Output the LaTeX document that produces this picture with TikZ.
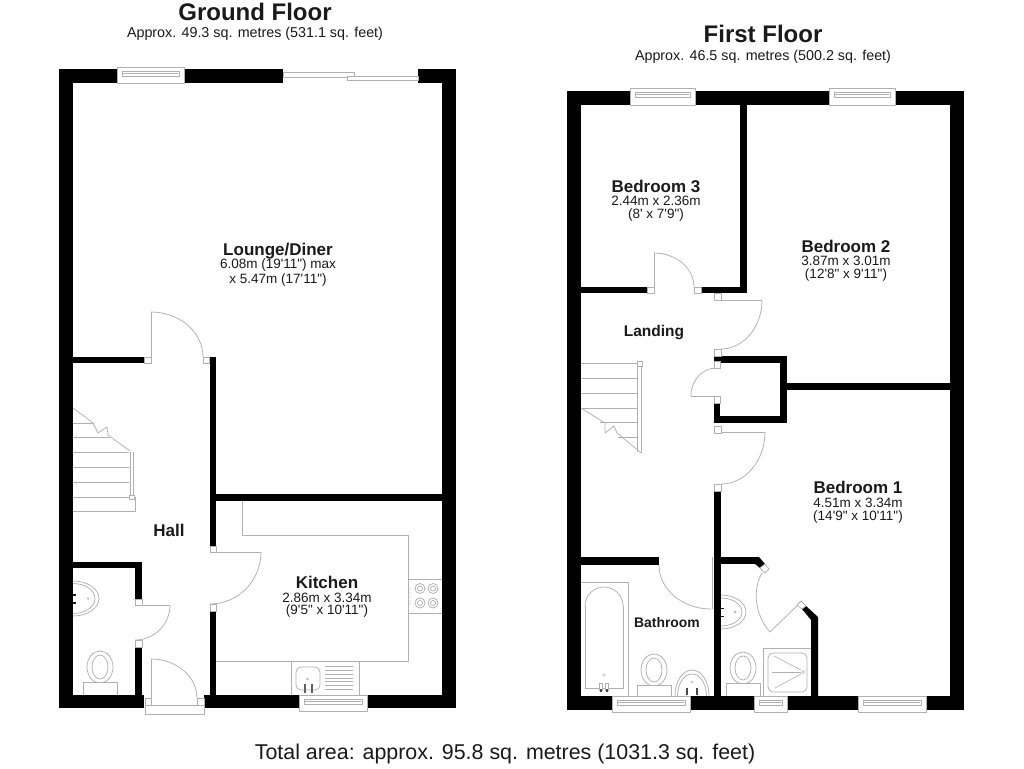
\documentclass[tikz,border=0pt]{standalone}
\usepackage{fontspec}
\setmainfont{Liberation Sans}
\newfontfamily\plainsans{Liberation Sans}
\usetikzlibrary{calc}
\definecolor{fix}{HTML}{B0B0B0}
\definecolor{ink}{HTML}{1A1A1A}
\tikzset{
  fixture/.style={draw=fix,line width=0.75pt,line join=round},
  wall/.style={fill=black,draw=none},
  jamb/.style={fixture,fill=white},
  tap/.style={fill=ink,draw=none},
  roomname/.style={text=ink,font=\fontsize{17}{19}\selectfont\bfseries,inner sep=0pt,align=center},
  roomsize/.style={text=ink,font=\plainsans\fontsize{13.5}{15}\selectfont,inner sep=0pt,align=center},
  heading/.style={text=ink,font=\fontsize{24}{27}\selectfont\bfseries,inner sep=0pt},
  subheading/.style={text=ink,font=\fontsize{14.3}{16}\selectfont,inner sep=0pt},
}
\newcommand{\wl}[4]{\fill[wall] (#1,#2) rectangle (#3,#4);}
\newcommand{\jb}[4]{\draw[jamb] (#1,#2) rectangle (#3,#4);}
\newcommand{\qarc}[3]{\draw[fixture] (#1) .. controls ($(#1)!.552!(#2)$) and ($(#3)!.552!(#2)$) .. (#3);}
% window: x0 x1 ytop ybottom, inner pane
\newcommand{\windowunit}[4]{\draw[jamb] (#1,#3) rectangle (#2,#4);
  \draw[fixture,line width=0.6pt] ({#1+5},{#3+4}) rectangle ({#2-5},{#3+9});
  \draw[fixture,line width=0.6pt] ({#1+6},{#3+6.5}) -- ({#2-6},{#3+6.5});}
\newcommand{\toiletunit}[2]{\draw[fixture] (#1,#2) ellipse [x radius=13pt,y radius=16pt];
  \draw[fixture] (#1,#2) ellipse [x radius=8pt,y radius=12pt];
  \draw[jamb] ({#1-17},{#2+15}) rectangle ({#1+17},{#2+28});}
\newcommand{\walltaps}[2]{\fill[tap] (#1,{#2-4.5}) rectangle ({#1+3},{#2-3});\fill[tap] (#1,{#2+3.5}) rectangle ({#1+3},{#2+5});}
% half basin against a vertical wall: cx cy rx ry
\newcommand{\sidebasin}[4]{\draw[fixture] (#1,{#2-#4}) .. controls ({#1+.552*#3},{#2-#4}) and ({#1+#3},{#2-.552*#4}) .. ({#1+#3},#2) .. controls ({#1+#3},{#2+.552*#4}) and ({#1+.552*#3},{#2+#4}) .. (#1,{#2+#4});}
% half basin against a horizontal wall: cx cy rx ry
\newcommand{\upbasin}[4]{\draw[fixture] ({#1-#3},#2) .. controls ({#1-#3},{#2-.552*#4}) and ({#1-.552*#3},{#2-#4}) .. (#1,{#2-#4}) .. controls ({#1+.552*#3},{#2-#4}) and ({#1+#3},{#2-.552*#4}) .. ({#1+#3},#2);}
\begin{document}
\begin{tikzpicture}[x=1pt,y=-1pt]
\useasboundingbox (0,0) rectangle (1024,768);
\fill[white] (0,0) rectangle (1024,768);

%% ------- GROUND FLOOR fixtures
% stairs
\draw[fixture] (73,408) -- (93,423) -- (98,433) -- (107,427) -- (108,435) -- (130,451);
\draw[fixture] (73,423) -- (93,423);
\draw[fixture] (73,437) -- (110,437);
\foreach \yy in {452,467,482}{\draw[fixture] (73,\yy) -- (129,\yy);}
\draw[fixture] (73,497) -- (135,497) -- (135,511) -- (73,511);
\draw[fixture] (130,452) -- (130,497);
\draw[fixture] (133,452) -- (133,495);
\draw[jamb] (129,495) rectangle (134,499);
% kitchen worktop
\draw[fixture] (242,501) -- (242,535) -- (408,535) -- (408,661) -- (216,661);
\draw[fixture] (408,579) -- (442,579);
\draw[fixture] (408,613) -- (442,613);
\foreach \xx/\yy in {420/588.5,433/588.5,420/603,433/603}{
  \draw[fixture] (\xx,\yy) circle (5pt);
  \draw[fixture] (\xx,\yy) circle (2.5pt);}
\foreach \yy in {589,593,597,601,604}{\fill[fix] (410,\yy) circle (0.6pt);}
% sink
\draw[fixture] (291,661) -- (291,695);
\draw[fixture] (359,661) -- (359,695);
\draw[fixture,rounded corners=5pt] (296,667) rectangle (320,690);
\foreach \yy in {666,670,674,678,681.5,685,689}{\draw[fixture,line width=0.6pt] (325,\yy) -- (353,\yy);}
\draw[fix] (307.5,679) circle (1pt);
\fill[ink!70] (303.5,684) rectangle (305.5,693);
\fill[ink!70] (311,684) rectangle (313,693);
% cloakroom
\sidebasin{73}{598.5}{26}{17.5}
\sidebasin{73}{598.5}{22}{15}
\draw[fix] (88,598.5) circle (0.8pt);
\toiletunit{100}{667}
% doors
\draw[fixture] (151,363) -- (151,312);
\qarc{151,312}{203,312}{203,357}
\draw[fixture] (210,552) -- (261,552);
\qarc{261,552}{261,604}{210,604}
\draw[fixture] (135,605) -- (170,605);
\qarc{170,605}{170,640}{135,640}
\draw[fixture] (151,705) -- (151,659);
\qarc{151,659}{197,659}{197,698}

%% ------- GROUND FLOOR walls
\wl{59}{69}{73}{708}
\wl{59}{69}{117}{83}
\wl{184}{69}{283}{83}
\wl{418}{69}{456}{83}
\wl{442}{69}{456}{708}
\wl{59}{695}{144}{708}
\wl{204}{695}{299}{708}
\wl{367}{695}{456}{708}
\wl{73}{357}{144}{363}
\wl{210}{357}{216}{546}
\wl{210}{611}{216}{695}
\wl{216}{494}{442}{501}
\wl{73}{562}{142}{568}
\wl{135}{562}{142}{599}
\wl{135}{647}{142}{695}
\walltaps{73}{598.5}
\jb{144}{357}{151}{363}
\jb{203}{357}{209}{363}
\jb{210}{546}{216}{552}
\jb{210}{604}{216}{611}
\jb{135}{599}{142}{605}
\jb{135}{640}{142}{647}
\jb{145}{698}{151}{705}
\jb{197}{698}{204}{705}
\draw[jamb] (145,705) rectangle (204,714);
\windowunit{117}{184}{67}{83}
\windowunit{299}{367}{695}{711}
% sliding door
\draw[jamb] (283,72) rectangle (354,77);
\draw[jamb] (347,76) rectangle (418,80);

%% ------- FIRST FLOOR fixtures
% stairs
\draw[fixture] (581,363) -- (637,363);
\draw[fixture] (581,378) -- (637,378);
\draw[fixture] (581,393) -- (637,393);
\draw[fixture] (581,408) -- (637,408);
\draw[fixture] (581,408) -- (605,423) -- (605,433) -- (614,426) -- (617,433) -- (640,452);
\draw[fixture] (600,422) -- (637,422);
\draw[fixture] (618,437) -- (637,437);
\draw[fixture] (637,363) -- (637,452);
\draw[fixture] (641,363) -- (641,452) -- (640,452);
\draw[jamb] (637,361) rectangle (642,366);
% bath
\draw[fixture] (581,582) -- (628,582) -- (628,696);
\draw[fixture] (585,688) -- (585,606);
\qarc{585,606}{585,587}{604,587}
\qarc{604,587}{623,587}{623,606}
\draw[fixture] (623,606) -- (623,688) -- (585,688);
\draw[fix] (604,675) circle (1.3pt);
\draw[jamb] (599.5,683) rectangle (602.5,690);
\draw[jamb] (605.5,683) rectangle (608.5,690);
\fill[ink!80] (600,689) rectangle (602,691.5);
\fill[ink!80] (606,689) rectangle (608,691.5);
% WC + basin bathroom
\toiletunit{654}{670}
\upbasin{692}{696}{17}{26}
\upbasin{692}{696}{14.5}{22}
\draw[fix] (692,682) circle (1.2pt);
\fill[ink!80] (686,688) rectangle (688,695);
\fill[ink!80] (695.5,688) rectangle (697.5,695);
% ensuite
\sidebasin{721}{612}{25}{17}
\sidebasin{721}{612}{21}{14}
\draw[fix] (735,612) circle (1pt);
\toiletunit{743}{668}
\draw[fixture] (763,696) -- (763,648) -- (811,648);
\draw[fixture,rounded corners=5pt] (768,653) rectangle (807,692);
\draw[fix] (803,672) circle (1.5pt);
\draw[fixture,line width=0.6pt] (774,656) -- (801,670);
\draw[fixture,line width=0.6pt] (772,672) -- (801,672);
\draw[fixture,line width=0.6pt] (775,688) -- (801,674);
% doors
\draw[fixture] (654,287) -- (654,253);
\qarc{654,253}{694,253}{694,287}
\draw[fixture] (721,300) -- (762,300);
\qarc{762,300}{762,349}{721,349}
\draw[fixture] (716,396) -- (691,396);
\qarc{691,396}{691,368}{716,368}
\draw[fixture] (721,432) -- (765,432);
\qarc{765,432}{765,484}{721,484}
\draw[fixture] (712,557) -- (712,609);
\qarc{711,609}{659,609}{659,565}
% ensuite door
\draw[fixture] (762,573) .. controls (752,590) and (755,615) .. (770,632) -- (802,601);

%% ------- FIRST FLOOR walls
\wl{567}{91}{581}{710}
\wl{567}{91}{630}{105}
\wl{695}{91}{829}{105}
\wl{895}{91}{964}{105}
\wl{950}{91}{964}{710}
\wl{567}{696}{612}{710}
\wl{690}{696}{754}{710}
\wl{787}{696}{858}{710}
\wl{926}{696}{964}{710}
\wl{740}{105}{747}{293}
\wl{581}{287}{647}{293}
\wl{701}{287}{747}{293}
\wl{714}{356}{787}{363}
\wl{780}{356}{787}{423}
\wl{714}{416}{787}{423}
\wl{714}{403}{720}{423}
\wl{787}{383}{950}{390}
\wl{714}{491}{721}{696}
\wl{581}{557}{659}{565}
\walltaps{721}{612}
\wl{720}{557}{759}{564}
\fill[wall] (759,557) -- (765,564) -- (760,568) -- (755,564) -- cycle;
\fill[wall] (806,606) -- (818,617) -- (818,696) -- (811,696) -- (811,620) -- (802,609) -- cycle;
\jb{647}{287}{654}{293}
\jb{694}{287}{701}{293}
\jb{714}{293}{721}{300}
\jb{714}{349}{721}{356}
\jb{714}{361}{720}{368}
\jb{714}{396}{720}{403}
\jb{714}{426}{721}{433}
\jb{714}{484}{721}{491}
\draw[jamb] (765,564) -- (769,569) -- (765,573) -- (760,568) -- cycle;
\draw[jamb] (801,601) -- (806,606) -- (802,609) -- (797,605) -- cycle;
\windowunit{630}{695}{88}{105}
\windowunit{829}{895}{88}{105}
\windowunit{612}{690}{696}{712}
\windowunit{754}{787}{696}{712}
\windowunit{858}{926}{696}{712}

%% ------- TEXT
\node[heading] (gftitle) at (255,12) {Ground Floor};
\node[subheading] (gfarea) at (255,34) {Approx. 49.3 sq. metres (531.1 sq. feet)};
\node[heading] (fftitle) at (763,34) {First Floor};
\node[subheading] (ffarea) at (763,57) {Approx. 46.5 sq. metres (500.2 sq. feet)};
\node[text=ink,font=\fontsize{21.4}{24}\selectfont,inner sep=0pt] (total) at (505,754) {Total area: approx. 95.8 sq. metres (1031.3 sq. feet)};
\node[roomname] (lounge) at (278,251) {Lounge/Diner};
\node[roomsize] (loungea) at (278,265) {6.08m (19'11") max};
\node[roomsize] (loungeb) at (278,280) {x 5.47m (17'11")};
\node[roomname] (hall) at (169,530) {Hall};
\node[roomname] (kitchen) at (327,582) {Kitchen};
\node[roomsize] (kitchena) at (327,598) {2.86m x 3.34m};
\node[roomsize] (kitchenb) at (327,611) {(9'5" x 10'11")};
\node[roomname] (bed3) at (656,186) {Bedroom 3};
\node[roomsize] (bed3a) at (656,201) {2.44m x 2.36m};
\node[roomsize] (bed3b) at (656,215) {(8' x 7'9")};
\node[roomname] (bed2) at (846,246) {Bedroom 2};
\node[roomsize] (bed2a) at (846,261) {3.87m x 3.01m};
\node[roomsize] (bed2b) at (846,275) {(12'8" x 9'11")};
\node[roomname] (bed1) at (858,487) {Bedroom 1};
\node[roomsize] (bed1a) at (858,503) {4.51m x 3.34m};
\node[roomsize] (bed1b) at (858,517) {(14'9" x 10'11")};
\node[roomname,font=\fontsize{15.5}{17}\selectfont\bfseries] (landing) at (654,333) {Landing};
\node[roomname,font=\fontsize{13.9}{15}\selectfont\bfseries] (bath) at (667,623) {Bathroom};
\end{tikzpicture}
\end{document}
